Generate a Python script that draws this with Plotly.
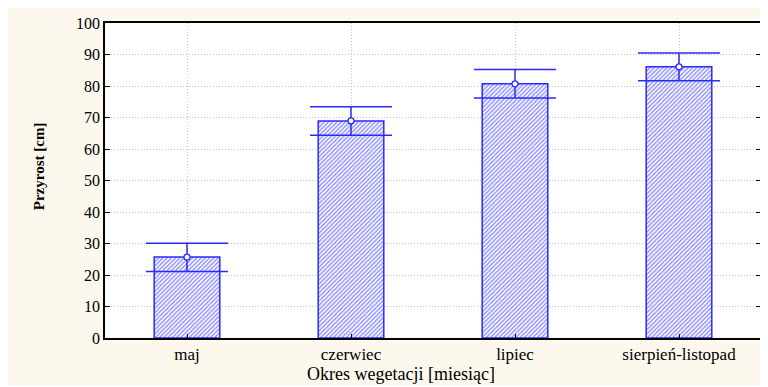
import plotly.graph_objects as go

categories = ["maj", "czerwiec", "lipiec", "sierpień-listopad"]
means = [25.7, 68.9, 80.7, 86.1]
upper = [30.1, 73.4, 85.2, 90.5]
lower = [21.1, 64.4, 76.2, 81.7]
y_ticks = [0, 10, 20, 30, 40, 50, 60, 70, 80, 90, 100]

BLUE = "#2a2aff"
SERIF = "Liberation Serif"

err_plus = [u - m for u, m in zip(upper, means)]
err_minus = [m - l for m, l in zip(means, lower)]

fig = go.Figure()
fig.add_trace(go.Bar(
    x=categories, y=means, width=0.4,
    marker=dict(color="white", line=dict(color=BLUE, width=1.5),
                pattern=dict(shape="/", fgcolor=BLUE, bgcolor="white", size=3, solidity=0.5)),
    showlegend=False, hoverinfo="skip",
))
fig.add_trace(go.Scatter(
    x=categories, y=means, mode="markers",
    marker=dict(symbol="circle", size=6, color="white", line=dict(color=BLUE, width=1.3)),
    error_y=dict(type="data", symmetric=False, array=err_plus, arrayminus=err_minus,
                 color=BLUE, thickness=1.5, width=41),
    showlegend=False,
))

W, H = 760, 377
OFF = 8  # page body margin
L, R, T, B = 97, 5, 15, 47
PW, PH = W - L - R, H - T - B

def px(x):
    return (x - OFF - L) / PW

def py(y):
    return (H - B - (y - OFF)) / PH

fig.add_annotation(text="Okres wegetacji [miesiąc]", xref="paper", yref="paper",
                   x=px(402), y=py(374), showarrow=False, xanchor="center", yanchor="middle",
                   font=dict(family=SERIF, size=18, color="black"))
fig.add_annotation(text="<b>Przyrost [cm]</b>", xref="paper", yref="paper",
                   x=px(39), y=py(166), showarrow=False, textangle=-90,
                   xanchor="center", yanchor="middle",
                   font=dict(family=SERIF, size=15, color="black"))

fig.update_layout(
    width=W, height=H,
    margin=dict(l=L, r=R, t=T, b=B),
    paper_bgcolor="#fdf8ee", plot_bgcolor="white",
    font=dict(family=SERIF, color="black"),
    bargap=0.6,
)
fig.update_xaxes(
    range=[-0.5, 3.5], showline=True, linecolor="black", linewidth=1.5, mirror=True,
    ticks="inside", ticklen=4, tickcolor="black",
    showgrid=True, gridcolor="#c4c4c4", griddash="1px,2px", gridwidth=1,
    tickfont=dict(family=SERIF, size=17, color="black"),
)
fig.update_yaxes(
    range=[0, 100], tickvals=y_ticks, showline=True, linecolor="black", linewidth=1.5,
    mirror="ticks", ticks="inside", ticklen=5, tickcolor="black",
    showgrid=True, gridcolor="#c4c4c4", griddash="1px,2px", gridwidth=1,
    tickfont=dict(family=SERIF, size=16, color="black"), zeroline=False,
)

fig.write_html("out.html")
